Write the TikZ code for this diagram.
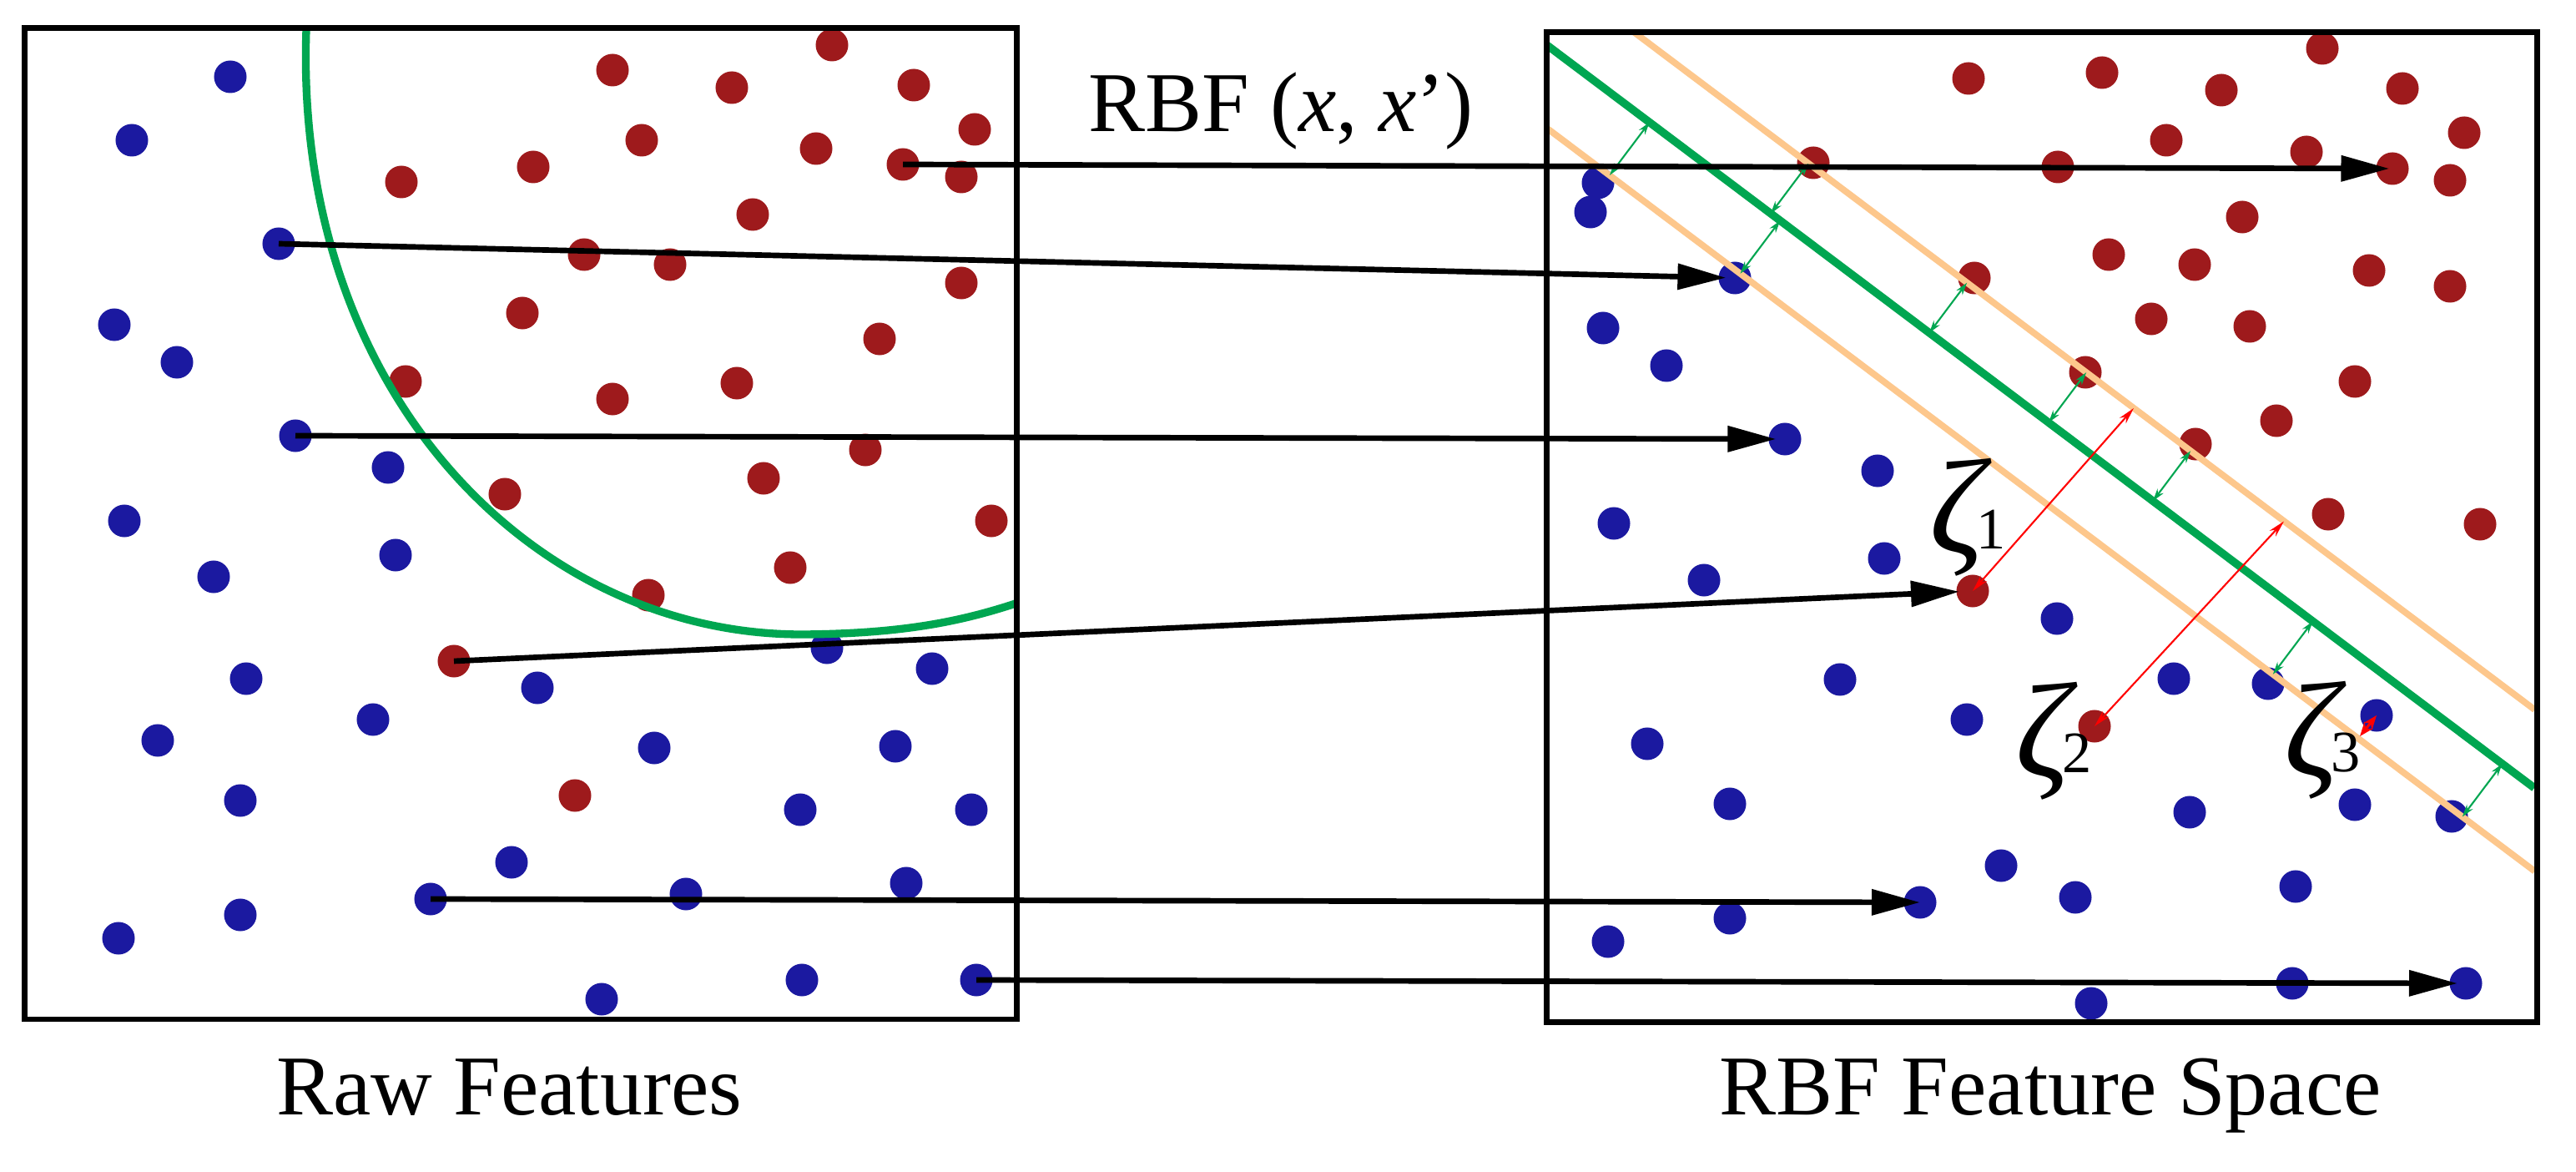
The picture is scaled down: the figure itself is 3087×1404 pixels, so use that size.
\documentclass[tikz,border=0pt]{standalone}
\usepackage{fontspec}
\setmainfont{Liberation Serif}
\usetikzlibrary{arrows.meta,calc}
\definecolor{dotred}{RGB}{158,26,28}
\definecolor{dotblue}{RGB}{27,25,160}
\definecolor{sepgreen}{RGB}{0,166,81}
\definecolor{margorange}{RGB}{253,199,140}
\newcommand{\zfnt}{\fontsize{46}{46}\selectfont\itshape}
\newcommand{\zsub}[1]{\kern-2.8pt\raisebox{1.6pt}{\fontsize{20}{20}\selectfont\upshape #1}}
\begin{document}
\begin{tikzpicture}[x=0.01cm,y=-0.01cm,
  rdot/.style={circle,fill=dotred,inner sep=0pt,minimum size=0.39cm},
  bdot/.style={circle,fill=dotblue,inner sep=0pt,minimum size=0.39cm},
  boxframe/.style={draw=black,line width=1.9pt},
  maparrow/.style={draw=black,line width=1.9pt,-{Triangle[length=0.58cm,width=0.3cm]}},
  marginarrow/.style={draw=sepgreen,line width=0.6pt,{Stealth[length=0.15cm,width=0.09cm]}-{Stealth[length=0.15cm,width=0.09cm]}},
  slackarrow/.style={draw=red,line width=0.6pt,{Stealth[length=0.2cm,width=0.1cm]}-{Stealth[length=0.2cm,width=0.1cm]}},
  bandline/.style={draw=margorange,line width=2.2pt},
  sepline/.style={draw=sepgreen,line width=2.7pt},
  lbl/.style={font=\fontsize{29}{34}\selectfont,inner sep=0pt},
  zlbl/.style={inner sep=0pt,anchor=base west}
]
\useasboundingbox (0,0) rectangle (3087,1404);
\fill[white] (0,0) rectangle (3087,1404);

% ---------- left panel dots ----------
\foreach \x/\y [count=\i] in {997/54,734/84,877/105,1095/102,1168/155,769/168,978/178,1082/197,1152/212,481/218,639/200,902/257,700/305,803/317,1152/339,626/375,1054/406,486/457,734/478,883/459,1037/539,915/573,605/592,1188/624,947/680,777/713,544/792,689/953}
  \node[rdot] (Lr\i) at (\x,\y) {};
\foreach \x/\y [count=\i] in {276/92,158/168,334/292,137/389,212/434,354/522,465/560,149/624,474/665,256/691,295/813,644/824,991/776,1117/801,447/862,189/887,784/896,1073/894,288/959,959/970,1164/970,613/1033,822/1071,1086/1058,516/1077,288/1096,142/1124,961/1174,1170/1174,721/1197}
  \node[bdot] (Lb\i) at (\x,\y) {};

% ---------- right panel dots ----------
\foreach \x/\y [count=\i] in {2359/94,2519/87,2783/58,2662/108,2879/106,2953/159,2596/168,2764/182,2867/202,2936/216,2466/200,2173/195,2687/260,2527/305,2630/317,2839/324,2936/343,2366/333,2578/382,2696/391,2499/446,2822/457,2728/504,2631/532,2790/616,2972/628,2364/708,2510/870}
  \node[rdot] (Rr\i) at (\x,\y) {};
\foreach \x/\y [count=\i] in {1915/219,1906/254,2079/333,1921/393,1997/438,2139/526,2250/564,1934/627,2258/669,2042/695,2465/741,2205/814,2605/813,2718/819,2848/857,2357/862,1974/891,2073/963,2624/973,2822/964,2938/978,2398/1037,2301/1081,2487/1075,2751/1062,2073/1100,1927/1128,2747/1178,2955/1178,2506/1202}
  \node[bdot] (Rb\i) at (\x,\y) {};

% ---------- left decision curve ----------
\draw[sepline,line width=2.65pt] (367,36) .. controls (352,470) and (640,762) .. (964,760)
  .. controls (1080,759) and (1150,745) .. (1217,723);

% ---------- right separating band ----------
\coordinate (gS) at (1853,53.5);
\coordinate (gE) at (3037,943.9);
\coordinate (uS) at (1957.4,38);
\coordinate (uE) at (3037.5,850.2);
\coordinate (lS) at (1855,154.5);
\coordinate (lE) at (3037.5,1043.7);
\draw[bandline] (uS) -- (uE);
\draw[bandline] (lS) -- (lE);
\draw[sepline] (gS) -- (gE);

% margin arrows (green line -> band edge)
\foreach \n/\gx/\gy/\ex/\ey in {b/2122/255.8/2167.1/195.8, d/2312/398.7/2357.1/338.7, e/2455/506.2/2500.1/446.2, f/2580/600.2/2625.1/540.2,
  a/1976.7/146.5/1928.9/210, c/2133.3/264.3/2085.5/327.8, g/2771.6/744.3/2723.8/807.8, h/2998.6/915/2950.8/978.5}{
  \coordinate (m\n1) at (\gx,\gy);
  \coordinate (m\n2) at (\ex,\ey);
  \draw[marginarrow] (m\n1) -- (m\n2);
}

% slack arrows
\coordinate (s1) at (2557,489);
\coordinate (s2) at (2737,624.5);
\coordinate (s3) at (2828,882);
\draw[slackarrow] (Rr27.center) -- (s1);
\draw[slackarrow] (Rr28.center) -- (s2);
\draw[slackarrow,line width=0.9pt,{Stealth[length=0.17cm,width=0.13cm]}-{Stealth[length=0.17cm,width=0.13cm]}] (s3) -- (Rb15.center);

% ---------- frames ----------
\draw[boxframe] (29.7,33.5) rectangle (1218.3,1221);
\draw[boxframe] (1853.3,38.3) rectangle (3040.5,1224.6);

% ---------- mapping arrows ----------
\draw[maparrow,shorten >=1pt] (Lr8.center) -- (Rr9.center);
\draw[maparrow,shorten >=3pt] (Lb3.center) -- (Rb3.center);
\draw[maparrow,shorten >=3pt] (Lb6.center) -- (Rb6.center);
\draw[maparrow,shorten >=0.16cm] (Lr27.center) -- (Rr27.center);
\draw[maparrow] (Lb25.center) -- (Rb23.center);
\draw[maparrow,shorten >=0.1cm] (Lb29.center) -- (Rb29.center);

% ---------- labels ----------
\node[lbl,anchor=base] (kernel) at (1535,158) {RBF (\textit{x}, \textit{x}’)};
\node[lbl,anchor=base] (rawlbl) at (610,1335) {Raw Features};
\node[lbl,anchor=base] (rbflbl) at (2457,1335) {RBF Feature Space};
\node[zlbl] (z1) at (2312,663) {\zfnt ζ\zsub{1}};
\node[zlbl] (z2) at (2415,931) {\zfnt ζ\zsub{2}};
\node[zlbl] (z3) at (2737,930) {\zfnt ζ\zsub{3}};
\end{tikzpicture}
\end{document}
